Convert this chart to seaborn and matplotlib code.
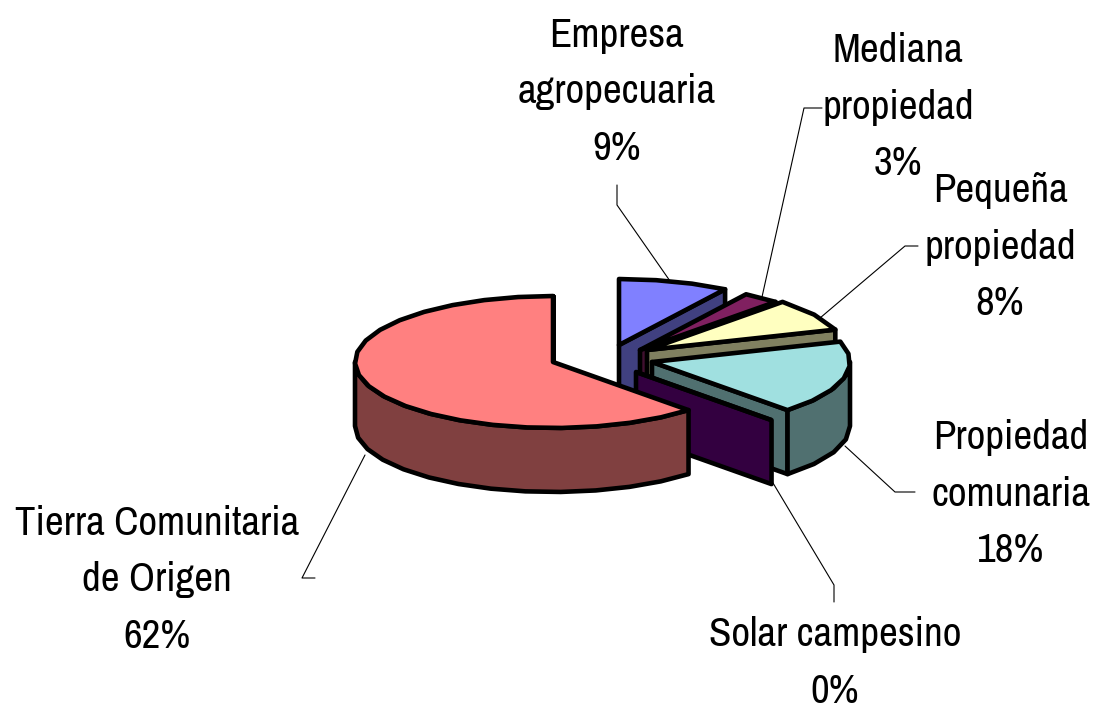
import numpy as np
import seaborn as sns
import matplotlib
matplotlib.use('Agg')
import matplotlib.pyplot as plt
from matplotlib import font_manager
from matplotlib.patches import Polygon

# Data, in drawing order (clockwise from 12 o'clock)
categories = ['Empresa\nagropecuaria', 'Mediana\npropiedad', 'Pequeña\npropiedad',
              'Propiedad\ncomunaria', 'Solar campesino', 'Tierra Comunitaria\nde Origen']
shares = [9, 3, 8, 18, 0, 62]

# Styling
top_colors = ['#8080FF', '#802060', '#FFFFC0', '#A0E0E0', '#330066', '#FF8080']
side_colors = ['#404080', '#401030', '#808060', '#507070', '#330040', '#804040']
apexes = [(619, 345), (640, 350), (647, 350), (652, 362), (636, 372), (553, 362)]
label_pos = [(617, 92), (898, 107), (1000, 247), (1011, 494), (835, 663), (157, 580)]
leaders = [[(617, 185), (617, 205), (670, 281)],
           [(822, 108), (804, 108), (762, 297)],
           [(918, 246), (905, 246), (820, 318)],
           [(915, 492), (895, 492), (845, 446)],
           [(834, 602), (834, 585), (773, 483)],
           [(315, 578), (302, 578), (365, 455)]]
RX, RY, DEPTH = 198, 66, 64

sns.set_theme(style='white')
# narrow face if it is there, otherwise plain Liberation at a smaller size
installed = {f.name for f in font_manager.fontManager.ttflist}
if 'Archivo Narrow' in installed:
    plt.rcParams['font.family'] = ['Archivo Narrow', 'DejaVu Sans']
    label_size, label_spacing = 29.5, 1.66
else:
    plt.rcParams['font.family'] = ['Liberation Sans', 'DejaVu Sans']
    label_size, label_spacing = 25.5, 1.98

fig, ax = plt.subplots(figsize=(10.95, 7.12), dpi=100)
fig.subplots_adjust(0, 0, 1, 1)
ax.set_xlim(0, 1095)
ax.set_ylim(712, 0)
ax.axis('off')


def arc(apex, start, end):
    # points on the elliptical rim, clockwise from start to end (degrees)
    n = max(int(abs(end - start) / 10), 1)
    t = np.radians(np.linspace(start, end, n + 1))
    return np.column_stack([apex[0] + RX * np.cos(t), apex[1] - RY * np.sin(t)])


def add_poly(pts, color):
    ax.add_patch(Polygon(pts, closed=True, facecolor=color, edgecolor='black',
                         linewidth=3.3, joinstyle='round'))


def draw_slice(apex, start, end, top, side):
    rim = arc(apex, start, end)
    down = np.array([0, DEPTH])
    base = np.array(apex, dtype=float)
    # cut face on the trailing edge
    add_poly([base, rim[-1], rim[-1] + down, base + down], side)
    # outer wall only where the rim faces the viewer
    hi, lo = min(start, 0), max(end, -180)
    if hi > lo:
        wall = arc(apex, hi, lo)
        add_poly(np.vstack([wall, (wall + down)[::-1]]), side)
    add_poly(np.vstack([base, rim]), top)


angle = 90
for share, apex, top, side in zip(shares, apexes, top_colors, side_colors):
    next_angle = angle - share * 3.6
    draw_slice(apex, angle, next_angle, top, side)
    angle = next_angle

for points in leaders:
    xs, ys = zip(*points)
    sns.lineplot(x=list(xs), y=list(ys), sort=False, estimator=None, color='black',
                 linewidth=0.8, ax=ax, legend=False)

for name, share, (x, y) in zip(categories, shares, label_pos):
    ax.text(x, y, f'{name}\n{share}%', ha='center', va='center', fontsize=label_size,
            color='black', linespacing=label_spacing)

fig.savefig('out.png', dpi=100)
